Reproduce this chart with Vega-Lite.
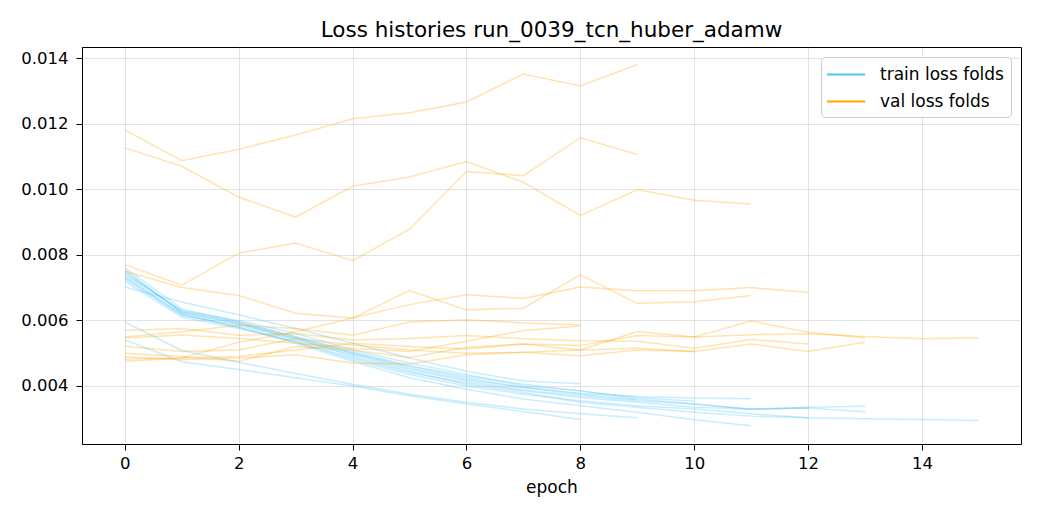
{
"$schema": "https://vega.github.io/schema/vega-lite/v6.json",
"width": 939, "height": 397,
"autosize": {"type": "none"},
"padding": {"left": 82, "top": 47, "right": 19, "bottom": 76},
"background": "white",
"title": {"text": "Loss histories run_0039_tcn_huber_adamw", "font": "DejaVu Sans", "fontSize": 21.5, "fontWeight": "normal", "color": "black", "offset": 5.5},
"config": {
  "view": {"stroke": "black", "strokeWidth": 1},
  "axis": {"domainColor": "black", "tickColor": "black", "tickSize": 6, "labelFont": "DejaVu Sans", "labelFontSize": 16.5, "labelColor": "black", "titleFont": "DejaVu Sans", "titleFontSize": 17, "titleFontWeight": "normal", "titleColor": "black", "gridColor": "#b0b0b0", "gridOpacity": 0.35, "gridWidth": 1},
  "legend": {"labelFont": "DejaVu Sans", "labelFontSize": 17, "labelColor": "black"}
},
"data": {"values": [
{"s":"T1","k":"train loss folds","e":0,"v":0.00702},{"s":"T1","k":"train loss folds","e":1,"v":0.00656},{"s":"T1","k":"train loss folds","e":2,"v":0.00617},{"s":"T1","k":"train loss folds","e":3,"v":0.00575},{"s":"T1","k":"train loss folds","e":4,"v":0.0053},{"s":"T1","k":"train loss folds","e":5,"v":0.00485},{"s":"T1","k":"train loss folds","e":6,"v":0.00445},{"s":"T1","k":"train loss folds","e":7,"v":0.00415},{"s":"T1","k":"train loss folds","e":8,"v":0.00407},
{"s":"T2","k":"train loss folds","e":0,"v":0.00541},{"s":"T2","k":"train loss folds","e":1,"v":0.00474},{"s":"T2","k":"train loss folds","e":2,"v":0.0045},{"s":"T2","k":"train loss folds","e":3,"v":0.00425},{"s":"T2","k":"train loss folds","e":4,"v":0.004},{"s":"T2","k":"train loss folds","e":5,"v":0.0037},{"s":"T2","k":"train loss folds","e":6,"v":0.00345},{"s":"T2","k":"train loss folds","e":7,"v":0.00322},{"s":"T2","k":"train loss folds","e":8,"v":0.00298},
{"s":"T3","k":"train loss folds","e":0,"v":0.00595},{"s":"T3","k":"train loss folds","e":1,"v":0.00508},{"s":"T3","k":"train loss folds","e":2,"v":0.00472},{"s":"T3","k":"train loss folds","e":3,"v":0.00438},{"s":"T3","k":"train loss folds","e":4,"v":0.00405},{"s":"T3","k":"train loss folds","e":5,"v":0.00375},{"s":"T3","k":"train loss folds","e":6,"v":0.0035},{"s":"T3","k":"train loss folds","e":7,"v":0.0033},{"s":"T3","k":"train loss folds","e":8,"v":0.00315},{"s":"T3","k":"train loss folds","e":9,"v":0.00303},
{"s":"T4","k":"train loss folds","e":0,"v":0.00761},{"s":"T4","k":"train loss folds","e":1,"v":0.00635},{"s":"T4","k":"train loss folds","e":2,"v":0.00595},{"s":"T4","k":"train loss folds","e":3,"v":0.0055},{"s":"T4","k":"train loss folds","e":4,"v":0.005},{"s":"T4","k":"train loss folds","e":5,"v":0.0046},{"s":"T4","k":"train loss folds","e":6,"v":0.00425},{"s":"T4","k":"train loss folds","e":7,"v":0.00395},{"s":"T4","k":"train loss folds","e":8,"v":0.00375},{"s":"T4","k":"train loss folds","e":9,"v":0.00358},
{"s":"T5","k":"train loss folds","e":0,"v":0.00754},{"s":"T5","k":"train loss folds","e":1,"v":0.00624},{"s":"T5","k":"train loss folds","e":2,"v":0.0059},{"s":"T5","k":"train loss folds","e":3,"v":0.00545},{"s":"T5","k":"train loss folds","e":4,"v":0.005},{"s":"T5","k":"train loss folds","e":5,"v":0.00455},{"s":"T5","k":"train loss folds","e":6,"v":0.0042},{"s":"T5","k":"train loss folds","e":7,"v":0.00395},{"s":"T5","k":"train loss folds","e":8,"v":0.00378},{"s":"T5","k":"train loss folds","e":9,"v":0.00368},{"s":"T5","k":"train loss folds","e":10,"v":0.00363},{"s":"T5","k":"train loss folds","e":11,"v":0.00361},
{"s":"T6","k":"train loss folds","e":0,"v":0.00734},{"s":"T6","k":"train loss folds","e":1,"v":0.0062},{"s":"T6","k":"train loss folds","e":2,"v":0.0058},{"s":"T6","k":"train loss folds","e":3,"v":0.0053},{"s":"T6","k":"train loss folds","e":4,"v":0.00475},{"s":"T6","k":"train loss folds","e":5,"v":0.00425},{"s":"T6","k":"train loss folds","e":6,"v":0.0039},{"s":"T6","k":"train loss folds","e":7,"v":0.0036},{"s":"T6","k":"train loss folds","e":8,"v":0.0034},{"s":"T6","k":"train loss folds","e":9,"v":0.0032},{"s":"T6","k":"train loss folds","e":10,"v":0.00297},{"s":"T6","k":"train loss folds","e":11,"v":0.00279},
{"s":"T7","k":"train loss folds","e":0,"v":0.00744},{"s":"T7","k":"train loss folds","e":1,"v":0.00628},{"s":"T7","k":"train loss folds","e":2,"v":0.00595},{"s":"T7","k":"train loss folds","e":3,"v":0.0055},{"s":"T7","k":"train loss folds","e":4,"v":0.00505},{"s":"T7","k":"train loss folds","e":5,"v":0.00462},{"s":"T7","k":"train loss folds","e":6,"v":0.0043},{"s":"T7","k":"train loss folds","e":7,"v":0.00405},{"s":"T7","k":"train loss folds","e":8,"v":0.00385},{"s":"T7","k":"train loss folds","e":9,"v":0.0036},{"s":"T7","k":"train loss folds","e":10,"v":0.00345},{"s":"T7","k":"train loss folds","e":11,"v":0.0033},{"s":"T7","k":"train loss folds","e":12,"v":0.00333},
{"s":"T8","k":"train loss folds","e":0,"v":0.00726},{"s":"T8","k":"train loss folds","e":1,"v":0.00615},{"s":"T8","k":"train loss folds","e":2,"v":0.00585},{"s":"T8","k":"train loss folds","e":3,"v":0.0054},{"s":"T8","k":"train loss folds","e":4,"v":0.00495},{"s":"T8","k":"train loss folds","e":5,"v":0.0045},{"s":"T8","k":"train loss folds","e":6,"v":0.00415},{"s":"T8","k":"train loss folds","e":7,"v":0.00388},{"s":"T8","k":"train loss folds","e":8,"v":0.0037},{"s":"T8","k":"train loss folds","e":9,"v":0.00355},{"s":"T8","k":"train loss folds","e":10,"v":0.00345},{"s":"T8","k":"train loss folds","e":11,"v":0.00328},{"s":"T8","k":"train loss folds","e":12,"v":0.00335},{"s":"T8","k":"train loss folds","e":13,"v":0.00338},
{"s":"T9","k":"train loss folds","e":0,"v":0.00719},{"s":"T9","k":"train loss folds","e":1,"v":0.0061},{"s":"T9","k":"train loss folds","e":2,"v":0.00575},{"s":"T9","k":"train loss folds","e":3,"v":0.00535},{"s":"T9","k":"train loss folds","e":4,"v":0.00485},{"s":"T9","k":"train loss folds","e":5,"v":0.0044},{"s":"T9","k":"train loss folds","e":6,"v":0.0041},{"s":"T9","k":"train loss folds","e":7,"v":0.00385},{"s":"T9","k":"train loss folds","e":8,"v":0.00365},{"s":"T9","k":"train loss folds","e":9,"v":0.0035},{"s":"T9","k":"train loss folds","e":10,"v":0.00335},{"s":"T9","k":"train loss folds","e":11,"v":0.0033},{"s":"T9","k":"train loss folds","e":12,"v":0.00333},{"s":"T9","k":"train loss folds","e":13,"v":0.00321},
{"s":"T10","k":"train loss folds","e":0,"v":0.0075},{"s":"T10","k":"train loss folds","e":1,"v":0.00625},{"s":"T10","k":"train loss folds","e":2,"v":0.0059},{"s":"T10","k":"train loss folds","e":3,"v":0.00545},{"s":"T10","k":"train loss folds","e":4,"v":0.0049},{"s":"T10","k":"train loss folds","e":5,"v":0.00445},{"s":"T10","k":"train loss folds","e":6,"v":0.00405},{"s":"T10","k":"train loss folds","e":7,"v":0.0038},{"s":"T10","k":"train loss folds","e":8,"v":0.0035},{"s":"T10","k":"train loss folds","e":9,"v":0.00335},{"s":"T10","k":"train loss folds","e":10,"v":0.0032},{"s":"T10","k":"train loss folds","e":11,"v":0.00308},{"s":"T10","k":"train loss folds","e":12,"v":0.00303},{"s":"T10","k":"train loss folds","e":13,"v":0.003},{"s":"T10","k":"train loss folds","e":14,"v":0.00298},{"s":"T10","k":"train loss folds","e":15,"v":0.00295},
{"s":"T11","k":"train loss folds","e":0,"v":0.0074},{"s":"T11","k":"train loss folds","e":1,"v":0.0063},{"s":"T11","k":"train loss folds","e":2,"v":0.006},{"s":"T11","k":"train loss folds","e":3,"v":0.0056},{"s":"T11","k":"train loss folds","e":4,"v":0.0051},{"s":"T11","k":"train loss folds","e":5,"v":0.0047},{"s":"T11","k":"train loss folds","e":6,"v":0.00435},{"s":"T11","k":"train loss folds","e":7,"v":0.004},{"s":"T11","k":"train loss folds","e":8,"v":0.00385},{"s":"T11","k":"train loss folds","e":9,"v":0.00365},{"s":"T11","k":"train loss folds","e":10,"v":0.00353},
{"s":"T12","k":"train loss folds","e":0,"v":0.0073},{"s":"T12","k":"train loss folds","e":1,"v":0.00618},{"s":"T12","k":"train loss folds","e":2,"v":0.00578},{"s":"T12","k":"train loss folds","e":3,"v":0.00535},{"s":"T12","k":"train loss folds","e":4,"v":0.0048},{"s":"T12","k":"train loss folds","e":5,"v":0.00435},{"s":"T12","k":"train loss folds","e":6,"v":0.004},{"s":"T12","k":"train loss folds","e":7,"v":0.00375},{"s":"T12","k":"train loss folds","e":8,"v":0.00355},{"s":"T12","k":"train loss folds","e":9,"v":0.0034},{"s":"T12","k":"train loss folds","e":10,"v":0.0033},{"s":"T12","k":"train loss folds","e":11,"v":0.00315},{"s":"T12","k":"train loss folds","e":12,"v":0.00303},
{"s":"V1","k":"val loss folds","e":0,"v":0.01181},{"s":"V1","k":"val loss folds","e":1,"v":0.01087},{"s":"V1","k":"val loss folds","e":2,"v":0.01122},{"s":"V1","k":"val loss folds","e":3,"v":0.01165},{"s":"V1","k":"val loss folds","e":4,"v":0.01215},{"s":"V1","k":"val loss folds","e":5,"v":0.01233},{"s":"V1","k":"val loss folds","e":6,"v":0.01266},{"s":"V1","k":"val loss folds","e":7,"v":0.01351},{"s":"V1","k":"val loss folds","e":8,"v":0.01315},{"s":"V1","k":"val loss folds","e":9,"v":0.0138},
{"s":"V2","k":"val loss folds","e":0,"v":0.01126},{"s":"V2","k":"val loss folds","e":1,"v":0.0107},{"s":"V2","k":"val loss folds","e":2,"v":0.00976},{"s":"V2","k":"val loss folds","e":3,"v":0.00915},{"s":"V2","k":"val loss folds","e":4,"v":0.01009},{"s":"V2","k":"val loss folds","e":5,"v":0.01037},{"s":"V2","k":"val loss folds","e":6,"v":0.01084},{"s":"V2","k":"val loss folds","e":7,"v":0.01021},{"s":"V2","k":"val loss folds","e":8,"v":0.0092},{"s":"V2","k":"val loss folds","e":9,"v":0.00998},{"s":"V2","k":"val loss folds","e":10,"v":0.00966},{"s":"V2","k":"val loss folds","e":11,"v":0.00955},
{"s":"V3","k":"val loss folds","e":0,"v":0.0077},{"s":"V3","k":"val loss folds","e":1,"v":0.00707},{"s":"V3","k":"val loss folds","e":2,"v":0.00805},{"s":"V3","k":"val loss folds","e":3,"v":0.00836},{"s":"V3","k":"val loss folds","e":4,"v":0.00782},{"s":"V3","k":"val loss folds","e":5,"v":0.00878},{"s":"V3","k":"val loss folds","e":6,"v":0.01054},{"s":"V3","k":"val loss folds","e":7,"v":0.01041},{"s":"V3","k":"val loss folds","e":8,"v":0.01157},{"s":"V3","k":"val loss folds","e":9,"v":0.01106},
{"s":"V4","k":"val loss folds","e":0,"v":0.0075},{"s":"V4","k":"val loss folds","e":1,"v":0.007},{"s":"V4","k":"val loss folds","e":2,"v":0.00676},{"s":"V4","k":"val loss folds","e":3,"v":0.00622},{"s":"V4","k":"val loss folds","e":4,"v":0.00607},{"s":"V4","k":"val loss folds","e":5,"v":0.00691},{"s":"V4","k":"val loss folds","e":6,"v":0.00632},{"s":"V4","k":"val loss folds","e":7,"v":0.00637},{"s":"V4","k":"val loss folds","e":8,"v":0.00739},{"s":"V4","k":"val loss folds","e":9,"v":0.00652},{"s":"V4","k":"val loss folds","e":10,"v":0.00657},{"s":"V4","k":"val loss folds","e":11,"v":0.00676},
{"s":"V5","k":"val loss folds","e":0,"v":0.00482},{"s":"V5","k":"val loss folds","e":1,"v":0.00485},{"s":"V5","k":"val loss folds","e":2,"v":0.00533},{"s":"V5","k":"val loss folds","e":3,"v":0.00565},{"s":"V5","k":"val loss folds","e":4,"v":0.00607},{"s":"V5","k":"val loss folds","e":5,"v":0.00648},{"s":"V5","k":"val loss folds","e":6,"v":0.00678},{"s":"V5","k":"val loss folds","e":7,"v":0.00667},{"s":"V5","k":"val loss folds","e":8,"v":0.00702},{"s":"V5","k":"val loss folds","e":9,"v":0.0069},{"s":"V5","k":"val loss folds","e":10,"v":0.0069},{"s":"V5","k":"val loss folds","e":11,"v":0.007},{"s":"V5","k":"val loss folds","e":12,"v":0.00685},
{"s":"V6","k":"val loss folds","e":0,"v":0.00549},{"s":"V6","k":"val loss folds","e":1,"v":0.00565},{"s":"V6","k":"val loss folds","e":2,"v":0.00585},{"s":"V6","k":"val loss folds","e":3,"v":0.00575},{"s":"V6","k":"val loss folds","e":4,"v":0.00555},{"s":"V6","k":"val loss folds","e":5,"v":0.00595},{"s":"V6","k":"val loss folds","e":6,"v":0.00602},{"s":"V6","k":"val loss folds","e":7,"v":0.00592},{"s":"V6","k":"val loss folds","e":8,"v":0.00587},
{"s":"V7","k":"val loss folds","e":0,"v":0.00546},{"s":"V7","k":"val loss folds","e":1,"v":0.00555},{"s":"V7","k":"val loss folds","e":2,"v":0.00545},{"s":"V7","k":"val loss folds","e":3,"v":0.0053},{"s":"V7","k":"val loss folds","e":4,"v":0.00515},{"s":"V7","k":"val loss folds","e":5,"v":0.00505},{"s":"V7","k":"val loss folds","e":6,"v":0.00536},{"s":"V7","k":"val loss folds","e":7,"v":0.00569},{"s":"V7","k":"val loss folds","e":8,"v":0.00583},
{"s":"V8","k":"val loss folds","e":0,"v":0.00521},{"s":"V8","k":"val loss folds","e":1,"v":0.00505},{"s":"V8","k":"val loss folds","e":2,"v":0.0051},{"s":"V8","k":"val loss folds","e":3,"v":0.00545},{"s":"V8","k":"val loss folds","e":4,"v":0.00525},{"s":"V8","k":"val loss folds","e":5,"v":0.0051},{"s":"V8","k":"val loss folds","e":6,"v":0.005},{"s":"V8","k":"val loss folds","e":7,"v":0.00503},{"s":"V8","k":"val loss folds","e":8,"v":0.0051},{"s":"V8","k":"val loss folds","e":9,"v":0.00515},{"s":"V8","k":"val loss folds","e":10,"v":0.00505},
{"s":"V9","k":"val loss folds","e":0,"v":0.00569},{"s":"V9","k":"val loss folds","e":1,"v":0.00575},{"s":"V9","k":"val loss folds","e":2,"v":0.00555},{"s":"V9","k":"val loss folds","e":3,"v":0.0056},{"s":"V9","k":"val loss folds","e":4,"v":0.0054},{"s":"V9","k":"val loss folds","e":5,"v":0.00545},{"s":"V9","k":"val loss folds","e":6,"v":0.00554},{"s":"V9","k":"val loss folds","e":7,"v":0.00544},{"s":"V9","k":"val loss folds","e":8,"v":0.00538},{"s":"V9","k":"val loss folds","e":9,"v":0.00536},{"s":"V9","k":"val loss folds","e":10,"v":0.00515},{"s":"V9","k":"val loss folds","e":11,"v":0.00542},{"s":"V9","k":"val loss folds","e":12,"v":0.00528},
{"s":"V10","k":"val loss folds","e":0,"v":0.00475},{"s":"V10","k":"val loss folds","e":1,"v":0.00485},{"s":"V10","k":"val loss folds","e":2,"v":0.0049},{"s":"V10","k":"val loss folds","e":3,"v":0.0051},{"s":"V10","k":"val loss folds","e":4,"v":0.0053},{"s":"V10","k":"val loss folds","e":5,"v":0.0052},{"s":"V10","k":"val loss folds","e":6,"v":0.00513},{"s":"V10","k":"val loss folds","e":7,"v":0.00528},{"s":"V10","k":"val loss folds","e":8,"v":0.00523},{"s":"V10","k":"val loss folds","e":9,"v":0.00554},{"s":"V10","k":"val loss folds","e":10,"v":0.00549},{"s":"V10","k":"val loss folds","e":11,"v":0.00556},{"s":"V10","k":"val loss folds","e":12,"v":0.00559},{"s":"V10","k":"val loss folds","e":13,"v":0.00551},{"s":"V10","k":"val loss folds","e":14,"v":0.00544},{"s":"V10","k":"val loss folds","e":15,"v":0.00547},
{"s":"V11","k":"val loss folds","e":0,"v":0.00489},{"s":"V11","k":"val loss folds","e":1,"v":0.0048},{"s":"V11","k":"val loss folds","e":2,"v":0.00485},{"s":"V11","k":"val loss folds","e":3,"v":0.00495},{"s":"V11","k":"val loss folds","e":4,"v":0.0047},{"s":"V11","k":"val loss folds","e":5,"v":0.00467},{"s":"V11","k":"val loss folds","e":6,"v":0.00495},{"s":"V11","k":"val loss folds","e":7,"v":0.00503},{"s":"V11","k":"val loss folds","e":8,"v":0.00492},{"s":"V11","k":"val loss folds","e":9,"v":0.0051},{"s":"V11","k":"val loss folds","e":10,"v":0.00505},{"s":"V11","k":"val loss folds","e":11,"v":0.00528},{"s":"V11","k":"val loss folds","e":12,"v":0.00505},{"s":"V11","k":"val loss folds","e":13,"v":0.00533},
{"s":"V12","k":"val loss folds","e":0,"v":0.005},{"s":"V12","k":"val loss folds","e":1,"v":0.0049},{"s":"V12","k":"val loss folds","e":2,"v":0.00475},{"s":"V12","k":"val loss folds","e":3,"v":0.0052},{"s":"V12","k":"val loss folds","e":4,"v":0.0051},{"s":"V12","k":"val loss folds","e":5,"v":0.00487},{"s":"V12","k":"val loss folds","e":6,"v":0.00518},{"s":"V12","k":"val loss folds","e":7,"v":0.00528},{"s":"V12","k":"val loss folds","e":8,"v":0.0051},{"s":"V12","k":"val loss folds","e":9,"v":0.00566},{"s":"V12","k":"val loss folds","e":10,"v":0.00549},{"s":"V12","k":"val loss folds","e":11,"v":0.00598},{"s":"V12","k":"val loss folds","e":12,"v":0.00564},{"s":"V12","k":"val loss folds","e":13,"v":0.00547}
]},
"mark": {"type": "line", "strokeWidth": 1.5, "opacity": 0.3},
"encoding": {
  "x": {"field": "e", "type": "quantitative", "scale": {"domain": [-0.752, 15.74], "nice": false, "zero": false}, "axis": {"values": [0, 2, 4, 6, 8, 10, 12, 14], "title": "epoch", "grid": true, "labelPadding": 5, "titlePadding": 7.5}},
  "y": {"field": "v", "type": "quantitative", "scale": {"domain": [0.00223, 0.014336], "nice": false, "zero": false}, "axis": {"values": [0.004, 0.006, 0.008, 0.01, 0.012, 0.014], "format": ".3f", "title": null, "grid": true, "labelPadding": 8}},
  "color": {"field": "k", "type": "nominal", "scale": {"domain": ["train loss folds", "val loss folds"], "range": ["#4fc3f7", "#ffa500"]},
    "legend": {"title": null, "orient": "top-right", "offset": 10, "symbolType": "M-2,0L2,0", "symbolSize": 361, "symbolStrokeWidth": 2, "symbolOpacity": 1, "symbolOffset": 7.5, "rowPadding": 8, "labelOffset": 23.5, "padding": 7, "strokeColor": "#cccccc", "fillColor": "white", "cornerRadius": 4}},
  "detail": {"field": "s"}
}
}
